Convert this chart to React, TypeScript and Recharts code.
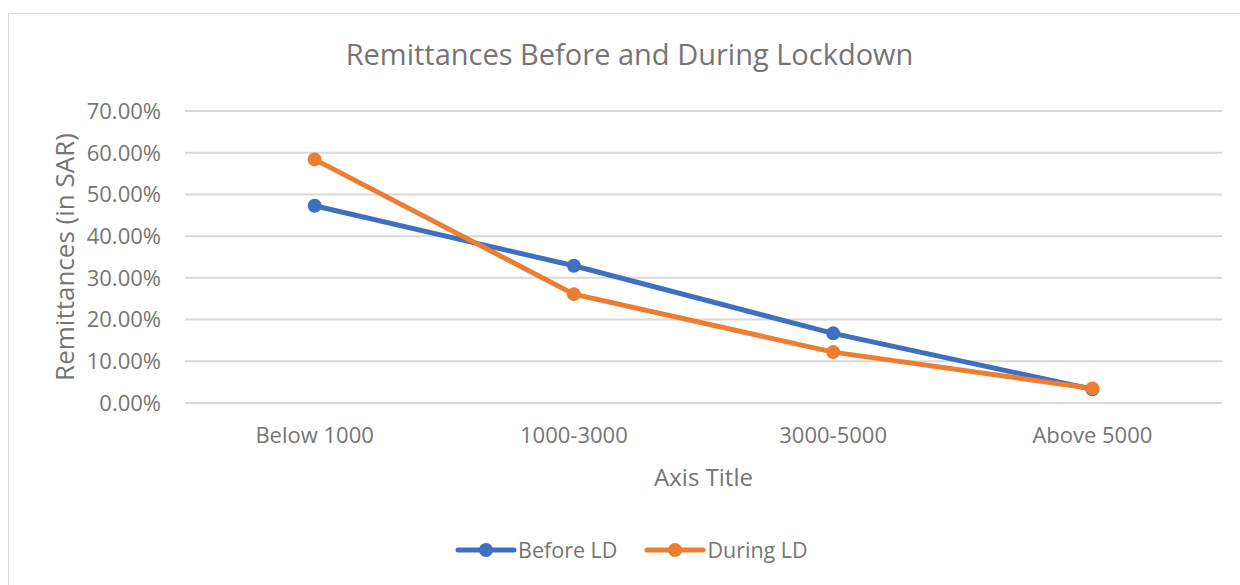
import React from "react";
import { LineChart, Line, XAxis, YAxis, CartesianGrid, Legend } from "recharts";

const categories = ["Below 1000", "1000-3000", "3000-5000", "Above 5000"];
const beforeLD = [47.3, 32.9, 16.7, 3.3];
const duringLD = [58.4, 26.1, 12.2, 3.5];
const yTicks = [0, 10, 20, 30, 40, 50, 60, 70];

const BLUE = "#3F6FBF";
const ORANGE = "#ED7D31";
const TEXT = "#757575";
const FONT = "'Open Sans', sans-serif";

const data = categories.map((name, i) => ({
  name,
  before: beforeLD[i],
  during: duringLD[i],
}));

function LegendContent() {
  const items = [
    { label: "Before LD", color: BLUE },
    { label: "During LD", color: ORANGE },
  ];
  return (
    <div style={{ display: "flex", alignItems: "center", fontFamily: FONT, fontSize: 21.5, color: TEXT }}>
      {items.map((it, i) => (
        <div key={it.label} style={{ display: "flex", alignItems: "center", marginLeft: i ? 27 : 0 }}>
          <svg width={62} height={20}>
            <line x1={3} y1={10} x2={59} y2={10} stroke={it.color} strokeWidth={5} strokeLinecap="round" />
            <circle cx={31} cy={10} r={7} fill={it.color} />
          </svg>
          <span style={{ marginLeft: 1 }}>{it.label}</span>
        </div>
      ))}
    </div>
  );
}

export default function App() {
  return (
    <div style={{ position: "absolute", left: 0, top: 0, width: 1240, height: 585, overflow: "hidden", background: "#fff" }}>
      <div
        style={{
          position: "absolute",
          left: 8,
          top: 13,
          width: 1260,
          height: 620,
          border: "1px solid #d9d9d9",
        }}
      />
      <div
        style={{
          position: "absolute",
          left: 0,
          width: 1259,
          top: 34,
          textAlign: "center",
          fontFamily: FONT,
          fontSize: 29,
          color: TEXT,
        }}
      >
        Remittances Before and During Lockdown
      </div>
      <div style={{ position: "absolute", left: 0, top: 0 }}>
        <LineChart width={1240} height={585} data={data} margin={{ top: 111, right: 18, left: 0, bottom: 0 }}>
          <CartesianGrid vertical={false} stroke="#d9d9d9" strokeWidth={2} />
          <XAxis
            dataKey="name"
            scale="band"
            height={182}
            axisLine={{ stroke: "#d9d9d9", strokeWidth: 2 }}
            tickLine={false}
            tickSize={0}
            tickMargin={24}
            tick={{ fill: TEXT, fontSize: 22, fontFamily: FONT }}
            label={({ viewBox }: any) => (
              <text
                x={viewBox.x + viewBox.width / 2}
                y={viewBox.y + 83}
                textAnchor="middle"
                fill={TEXT}
                fontSize={24}
                fontFamily={FONT}
              >
                Axis Title
              </text>
            )}
          />
          <YAxis
            width={185}
            domain={[0, 70]}
            ticks={yTicks}
            axisLine={false}
            tickLine={false}
            tickSize={0}
            tickMargin={24}
            tickFormatter={(v: number) => `${v.toFixed(2)}%`}
            tick={{ fill: TEXT, fontSize: 22, fontFamily: FONT }}
            label={({ viewBox }: any) => {
              const cx = viewBox.x + 64;
              const cy = viewBox.y + viewBox.height / 2;
              return (
                <text
                  x={cx}
                  y={cy}
                  transform={`rotate(-90 ${cx} ${cy})`}
                  textAnchor="middle"
                  dominantBaseline="central"
                  fill={TEXT}
                  fontSize={26}
                  fontFamily={FONT}
                >
                  Remittances (in SAR)
                </text>
              );
            }}
          />
          <Legend
            verticalAlign="middle"
            layout="horizontal"
            content={<LegendContent />}
            wrapperStyle={{ top: 535, left: 455, width: "auto" }}
          />
          <Line
            dataKey="before"
            name="Before LD"
            stroke={BLUE}
            strokeWidth={5}
            dot={{ r: 7, fill: BLUE, stroke: BLUE, strokeWidth: 0 }}
            isAnimationActive={false}
          />
          <Line
            dataKey="during"
            name="During LD"
            stroke={ORANGE}
            strokeWidth={5}
            dot={{ r: 7, fill: ORANGE, stroke: ORANGE, strokeWidth: 0 }}
            isAnimationActive={false}
          />
        </LineChart>
      </div>
    </div>
  );
}
